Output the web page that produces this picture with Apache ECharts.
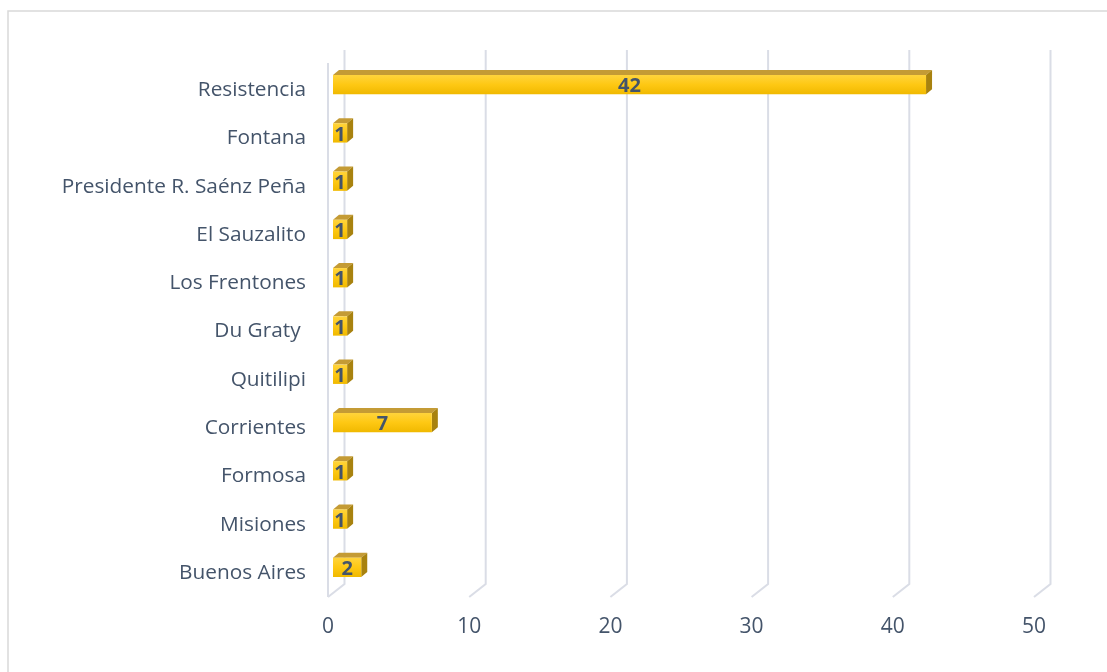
<!DOCTYPE html>
<html>
<head>
<meta charset="utf-8">
<script src="https://cdn.jsdelivr.net/npm/echarts@6/dist/echarts.min.js"></script>
<style>
  html, body { margin: 0; padding: 0; background: #fff; }
  #chart { width: 1107px; height: 672px; }
</style>
</head>
<body>
<div id="chart"></div>
<script>
const categories = [
  "Resistencia",
  "Fontana",
  "Presidente R. Saénz Peña",
  "El Sauzalito",
  "Los Frentones",
  "Du Graty ",
  "Quitilipi",
  "Corrientes",
  "Formosa",
  "Misiones",
  "Buenos Aires",
];
const values = [42, 1, 1, 1, 1, 1, 1, 7, 1, 1, 2];
const ticks = [0, 10, 20, 30, 40, 50];

const textColor = "#44546a";
const gridColor = "#dadde6";
// 3d offsets (back wall and bar depth)
const wallDx = 16.5, wallDy = -13;
const barDx = 6, barDy = -5, barShift = 5;

const chart = echarts.init(document.getElementById("chart"));

const options = {
  animation: false,
  backgroundColor: "#fff",
  graphic: [
    {
      type: "rect",
      silent: true,
      shape: { x: 8, y: 11, width: 1300, height: 900 },
      style: { fill: "none", stroke: "#d9d9d9", lineWidth: 1.5 },
    },
  ],
  grid: { left: 328, right: 73, top: 66, bottom: 75 },
  xAxis: {
    type: "value",
    min: 0,
    max: 50,
    interval: 10,
    axisLine: { show: false },
    axisTick: { show: false },
    splitLine: { show: false },
    axisLabel: {
      color: textColor,
      fontFamily: "Open Sans",
      fontSize: 21,
      margin: 20,
    },
  },
  yAxis: {
    type: "category",
    inverse: true,
    data: categories,
    axisLine: { show: false },
    axisTick: { show: false },
    axisLabel: {
      color: textColor,
      fontFamily: "Open Sans",
      fontSize: 20.8,
      margin: 22,
    },
  },
  series: [
    {
      // back wall grid lines with floor diagonals
      type: "custom",
      silent: true,
      z: 1,
      data: ticks.map((t) => [t, 0]),
      renderItem: function (params, api) {
        const cs = params.coordSys;
        const x = api.coord([api.value(0), 0])[0];
        const top = cs.y - 3, bottom = cs.y + cs.height;
        const children = [
          {
            type: "polyline",
            shape: {
              points: [
                [x + wallDx, top + wallDy],
                [x + wallDx, bottom + wallDy],
                [x, bottom],
              ],
            },
            style: { stroke: gridColor, lineWidth: 2, fill: null },
          },
        ];
        if (api.value(0) === 0) {
          children.push({
            type: "line",
            shape: { x1: x, y1: top, x2: x, y2: bottom },
            style: { stroke: gridColor, lineWidth: 2 },
          });
        }
        return { type: "group", children: children };
      },
    },
    {
      type: "custom",
      z: 2,
      data: values.map((v, i) => [v, i]),
      renderItem: function (params, api) {
        const v = api.value(0);
        const i = api.value(1);
        const p0 = api.coord([0, i]);
        const p1 = api.coord([v, i]);
        const band = api.size([0, 1])[1];
        const h = band * 0.4;
        const x0 = p0[0] + barShift, x1 = p1[0] + barShift;
        const yc = p0[1] - 5.5;
        const y0 = yc - h / 2, y1 = yc + h / 2;
        return {
          type: "group",
          children: [
            {
              type: "polygon",
              shape: {
                points: [
                  [x0, y0],
                  [x0 + barDx, y0 + barDy],
                  [x1 + barDx, y0 + barDy],
                  [x1, y0],
                ],
              },
              style: { fill: "#c49b35" },
            },
            {
              type: "polygon",
              shape: {
                points: [
                  [x1, y0],
                  [x1 + barDx, y0 + barDy],
                  [x1 + barDx, y1 + barDy],
                  [x1, y1],
                ],
              },
              style: { fill: "#a8820f" },
            },
            {
              type: "rect",
              shape: { x: x0, y: y0, width: x1 - x0, height: h },
              style: {
                fill: new echarts.graphic.LinearGradient(0, 0, 0, 1, [
                  { offset: 0, color: "#ffd43c" },
                  { offset: 0.5, color: "#fec813" },
                  { offset: 1, color: "#f0b900" },
                ]),
              },
            },
            {
              type: "text",
              style: {
                text: String(v),
                x: (x0 + x1) / 2,
                y: yc + 2,
                align: "center",
                verticalAlign: "middle",
                fill: textColor,
                font: "bold 20px 'Open Sans'",
              },
            },
          ],
        };
      },
    },
  ],
};

chart.setOption(options);
</script>
</body>
</html>
